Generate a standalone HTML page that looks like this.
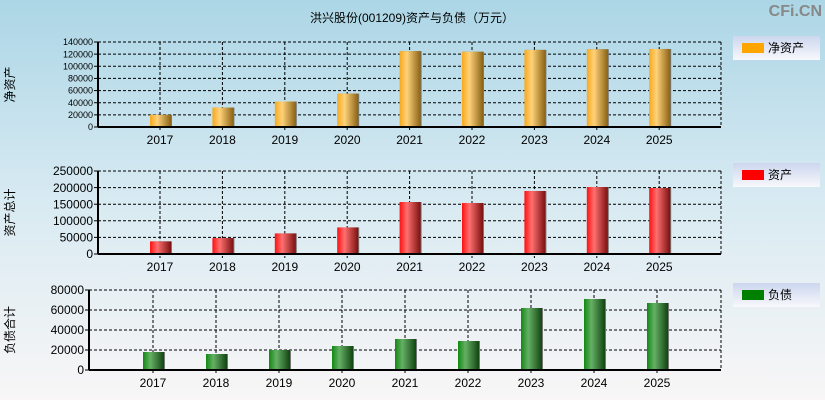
<!DOCTYPE html>
<html><head><meta charset="utf-8"><style>
body{margin:0;width:825px;height:400px;overflow:hidden;background:linear-gradient(#acd6e6,#d8eaf2 50%,#f8f6f6);font-family:"Liberation Sans","Noto Sans CJK SC",sans-serif;}
svg{display:block}
</style></head><body>
<svg id="c" width="825" height="400">
<defs>
<linearGradient id="gO" x1="0" x2="1"><stop offset="0" stop-color="#f7a81e"/><stop offset="0.35" stop-color="#ffd27a"/><stop offset="1" stop-color="#8a6214"/></linearGradient>
<linearGradient id="gR" x1="0" x2="1"><stop offset="0" stop-color="#ff1010"/><stop offset="0.35" stop-color="#ff7070"/><stop offset="1" stop-color="#7a1010"/></linearGradient>
<linearGradient id="gG" x1="0" x2="1"><stop offset="0" stop-color="#118811"/><stop offset="0.35" stop-color="#66b066"/><stop offset="1" stop-color="#114411"/></linearGradient>
<linearGradient id="gL" x1="0" x2="0" y1="0" y2="1"><stop offset="0" stop-color="#ccd6ee"/><stop offset="1" stop-color="#f8f8fc"/></linearGradient>
</defs>
<text x="412" y="22" font-size="12" text-anchor="middle">洪兴股份(001209)资产与负债（万元）</text>
<text x="822" y="16" font-size="16" font-weight="bold" fill="#888" text-anchor="end">CFi.CN</text>
</svg>
<script>
const years=["2017","2018","2019","2020","2021","2022","2023","2024","2025"];
const netAssets=[20000,32000,42000,55000,125000,124000,127000,128000,128500];
const totalAssets=[38000,48000,62000,80000,156600,153600,189800,201800,198800];
const liabilities=[18000,16000,20000,24000,31000,29000,62000,71000,67000];
const ticks1=[0,20000,40000,60000,80000,100000,120000,140000];
const ticks2=[0,50000,100000,150000,200000,250000];
const ticks3=[0,20000,40000,60000,80000];
const svg=document.getElementById('c');
const NS='http://www.w3.org/2000/svg';
function mk(tag,attrs,parent){const e=document.createElementNS(NS,tag);for(const k in attrs)e.setAttribute(k,attrs[k]);(parent||svg).appendChild(e);return e;}
const panels=[
 {key:'net',vals:netAssets,ticks:ticks1,x0:98,x1:721,yT:42,yB:127,first:160,step:62.4,fill:'url(#gO)',fs:9,ylab:'净资产',legend:'净资产',lc:'#ffa500',ly:36,labx:14},
 {key:'assets',vals:totalAssets,ticks:ticks2,x0:98,x1:721,yT:171,yB:254,first:160,step:62.4,fill:'url(#gR)',fs:12,ylab:'资产总计',legend:'资产',lc:'#ff0000',ly:163,labx:14},
 {key:'liab',vals:liabilities,ticks:ticks3,x0:89,x1:721,yT:290,yB:370,first:153,step:63,fill:'url(#gG)',fs:12,ylab:'负债合计',legend:'负债',lc:'#008000',ly:283,labx:14}
];
panels.forEach(p=>{
 const g=mk('g',{});
 
 
 const max=p.ticks[p.ticks.length-1];
 const y=v=>p.yB-(v/max)*(p.yB-p.yT);
 const x=i=>p.first+i*p.step;
 p.ticks.forEach(t=>{
  if(t>0){const l=mk('line',{x1:p.x0,x2:p.x1,y1:y(t),y2:y(t),stroke:'#000','stroke-dasharray':'3,2','stroke-width':1},g);
  }
  mk('line',{x1:p.x0-4,x2:p.x0,y1:y(t),y2:y(t),stroke:'#000'},g);
  const tx=mk('text',{x:p.x0-5,y:y(t)+p.fs*0.35,'font-size':p.fs,'text-anchor':'end'},g);tx.textContent=t;
  
 });
 mk('line',{x1:p.x1,x2:p.x1,y1:p.yT,y2:p.yB,stroke:'#000','stroke-dasharray':'3,2'},g);
 years.forEach((yr,i)=>{
  const gl=mk('line',{x1:x(i),x2:x(i),y1:p.yT,y2:p.yB+4,stroke:'#000','stroke-dasharray':'3,2'},g);
  
  const tx=mk('text',{x:x(i),y:p.yB+17,'font-size':12,'text-anchor':'middle'},g);tx.textContent=yr;
  
  const v=p.vals[i];
  mk('rect',{x:x(i)-9,y:y(v),width:21,height:p.yB-y(v),fill:'#777'},g);
  const b=mk('rect',{x:x(i)-10,y:y(v),width:21,height:p.yB-y(v),fill:p.fill},g);
  
 });
 mk('line',{x1:p.x0,x2:p.x0,y1:p.yT,y2:p.yB,stroke:'#000','stroke-width':2},g);
 mk('line',{x1:p.x0,x2:p.x1,y1:p.yB,y2:p.yB,stroke:'#000','stroke-width':2},g);
 const cy=(p.yT+p.yB)/2;
 const yl=mk('text',{x:p.labx,y:cy,'font-size':12,'text-anchor':'middle',transform:'rotate(-90 '+p.labx+' '+cy+')'},g);yl.textContent=p.ylab;
 
 const lg=mk('g',{},g);
 
 mk('rect',{x:733,y:p.ly,width:87,height:24,fill:'url(#gL)'},lg);
 mk('rect',{x:742,y:p.ly+7,width:22,height:10,fill:p.lc},lg);
 const lt=mk('text',{x:768,y:p.ly+16,'font-size':12},lg);lt.textContent=p.legend;
});
</script>
</body></html>
